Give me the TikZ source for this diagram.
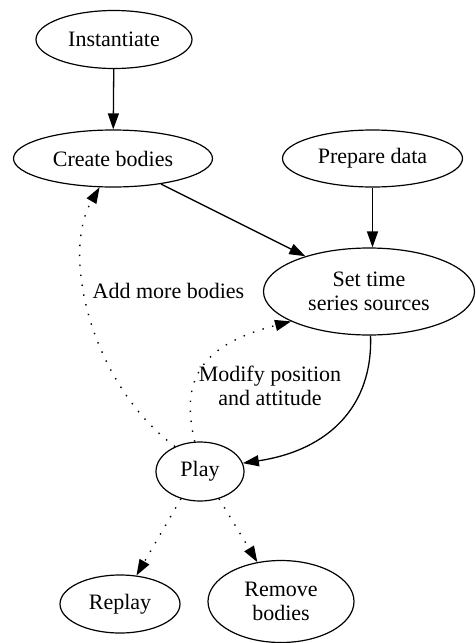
\documentclass[tikz,border=0pt]{standalone}
\usepackage{fontspec}
\setmainfont{Liberation Serif}
\newfontfamily\diagfont{Liberation Serif}
\usetikzlibrary{shapes.geometric,arrows.meta}
\tikzset{
  every picture/.style={x=1pt,y=-1pt},
  oval/.style={draw, ellipse, line width=1.2pt, inner sep=0pt, align=center,
    font=\diagfont\fontsize{22}{24}\selectfont},
  lbl/.style={align=center, inner sep=0pt, font=\diagfont\fontsize{22}{24}\selectfont},
  solidarrow/.style={line width=1.3pt, -{Triangle[length=16pt,width=11pt]}},
  dotarrow/.style={line width=1.4pt, dash pattern=on 1.4pt off 8.6pt,
    -{Triangle[length=16pt,width=11pt]}},
}
\begin{document}
\begin{tikzpicture}
\useasboundingbox (0,0) rectangle (475,643);
\node[oval, minimum width=156pt, minimum height=58pt] (inst) at (114,39.5) {Instantiate};
\node[oval, minimum width=199pt, minimum height=57pt] (create) at (113,158.5) {Create bodies};
\node[oval, minimum width=180pt, minimum height=57pt] (prep) at (372.5,158.5) {Prepare data};
\node[oval, minimum width=211pt, minimum height=87pt] (set) at (369,291.5) {Set time\\series sources};
\node[oval, minimum width=88pt, minimum height=59pt] (play) at (200,471.5) {Play};
\node[oval, minimum width=120pt, minimum height=58pt] (replay) at (120,604) {Replay};
\node[oval, minimum width=146pt, minimum height=82pt] (remove) at (281,601.5) {Remove\\bodies};

\node[lbl] (lab1) at (168.5,291) {Add more bodies};
\node[lbl] (lab2) at (270,386) {Modify position\\and attitude};

\draw[solidarrow] (inst) -- (create);
\draw[solidarrow] (create.-28) -- (set.151);
\draw[solidarrow] (prep.south) -- (set.north -| prep.south);
\draw[solidarrow] (set.-88) .. controls (373,405) and (330,450) .. (play.11);
\draw[dotarrow] (play.135) .. controls (92,385) and (60,255) .. (create.-115);
\draw[dotarrow] (play.100) .. controls (180,380) and (200,345) .. (set.-159);
\draw[dotarrow] (play.-125) -- (replay.60);
\draw[dotarrow] (play.-55) -- (remove.121);
\end{tikzpicture}
\end{document}
